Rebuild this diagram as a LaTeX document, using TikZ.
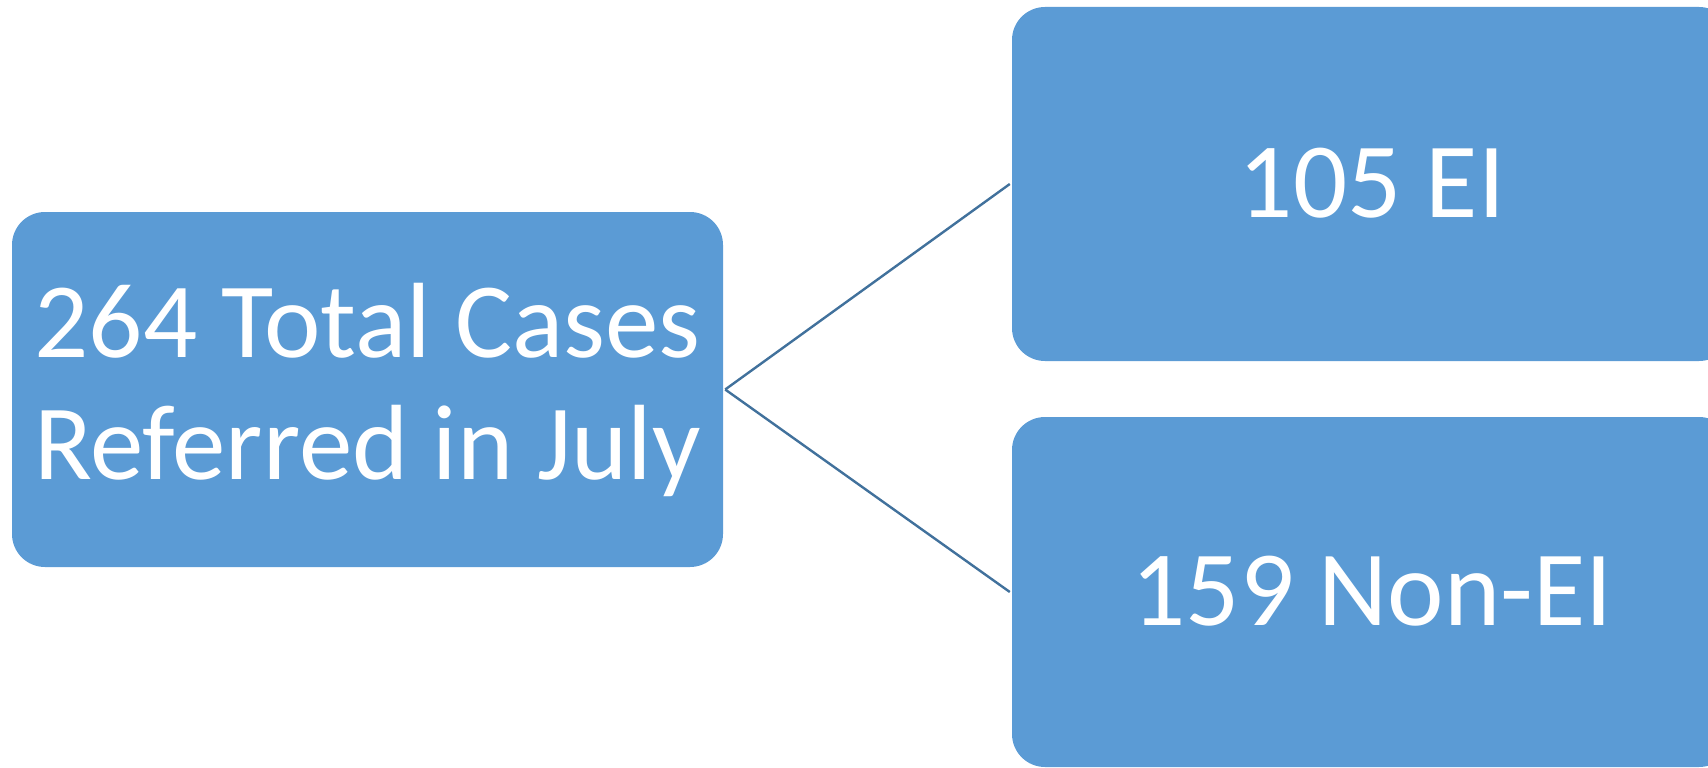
\documentclass[tikz,border=0pt]{standalone}
\usepackage{fontspec}
\setmainfont{Carlito}
\definecolor{boxblue}{HTML}{5B9BD5}
\definecolor{linkblue}{HTML}{41719C}
\tikzset{
  card/.style={rectangle, rounded corners=33pt, fill=boxblue, draw=none,
    text=white, align=center, inner sep=0pt,
    font=\fontsize{107}{120}\selectfont},
  link/.style={draw=linkblue, line width=2.4pt}
}
\begin{document}
\begin{tikzpicture}[x=1pt,y=-1pt]
\useasboundingbox (0,0) rectangle (1708,768);
\clip (0,0) rectangle (1708,768);
\node[card, minimum width=711pt, minimum height=355pt] (L) at (367.5,389.5) {\raisebox{2pt}{264 Total Cases}\\Referred in July};
\node[card, minimum width=720pt, minimum height=354pt] (T) at (1372,184) {\raisebox{3pt}{105 EI}};
\node[card, minimum width=720pt, minimum height=350pt] (B) at (1372,592) {\raisebox{2pt}{159 Non-EI}};
\draw[link] ([xshift=2pt]L.east) -- ([xshift=-2pt]T.west);
\draw[link] ([xshift=2pt]L.east) -- ([xshift=-2pt]B.west);
\end{tikzpicture}
\end{document}
